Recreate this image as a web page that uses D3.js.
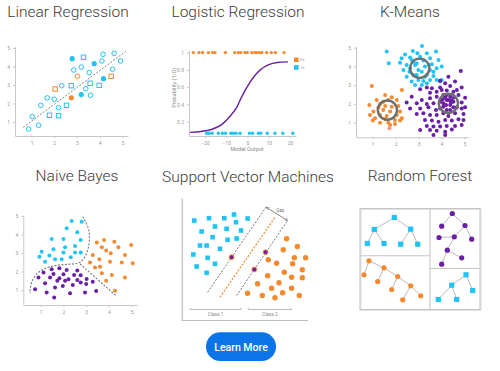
<!DOCTYPE html>
<html>
<head>
<meta charset="utf-8">
<script src="https://cdn.jsdelivr.net/npm/d3@7"></script>
<style>
  body { margin: 0; background: #fff; }
  text { font-family: Roboto, "Open Sans", sans-serif; }
  .tick text { fill: #999; font-size: 5px; }
  .tick line, .domain { stroke: #c8c8c8; }
</style>
</head>
<body>
<div id="chart"></div>
<script>
var svgWidth = 500;
var svgHeight = 371;

var cyan = "#1fc4f4";
var orange = "#f5892e";
var purple = "#6a1fa6";
var gray = "#777";

// panel titles
var titles = ["Linear Regression", "Logistic Regression", "K-Means",
  "Naive Bayes", "Support Vector Machines", "Random Forest"];

// ---- Linear regression data (x, y) ----
var lrOpenCircles = [[0.87, 0.62], [1.31, 0.82], [1.03, 1.29], [1.41, 1.9], [1.69, 2.3], [2.0, 2.23],
  [2.19, 1.77], [2.33, 2.96], [2.86, 3.81], [3.19, 3.97], [3.39, 2.8], [3.54, 3.67], [3.6, 2.44],
  [4.1, 4.3], [4.15, 4.66], [4.57, 3.85], [4.64, 4.71], [4.92, 4.3]];
var lrOpenSquares = [[1.79, 1.36], [2.19, 1.34], [2.54, 1.9], [2.75, 2.96], [3.29, 4.5], [3.58, 3.09], [3.98, 2.98]];
var lrFilledCircles = [[2.79, 4.42], [3.76, 4.15], [3.19, 2.48], [4.17, 3.34]];
var lrOrangeCircles = [[3.02, 3.47]];
var lrOrangeSquares = [[2.04, 2.78], [4.51, 3.47]];
var lrOrangeFilled = [[2.75, 2.31]];
var lrFit = [[0.63, 0.71], [5.15, 4.82]];
var axisTicks = [1, 2, 3, 4, 5];

// ---- Logistic regression data ----
var logOnes = [-25.5, -22.8, -21.1, -18.4, -16.4, -15.3, -10.4, -6.0, -4.3, -3.2, -1.2, -0.1,
  2.0, 3.5, 4.3, 5.6, 6.7, 9.0, 11.2, 13.1, 17.2];
var logZeros = [-19.2, -18.0, -16.6, -13.7, -11.8, -10.3, -7.8, -6.7, -5.4, -3.5, 0.9, 2.4,
  5.1, 6.2, 9.3, 12.9, 16.6, 21.3];
var logOneLevel = 1;
var logZeroLevel = 0.066;
var logCurve = [[-27, 0.077], [-22, 0.087], [-17, 0.11], [-12, 0.17], [-8, 0.27], [-5, 0.37],
  [-2.5, 0.5], [0, 0.61], [3, 0.72], [6, 0.8], [10, 0.86], [14, 0.885], [19, 0.893]];
var logXTicks = [-20, -10, 0, 10, 20];
var logYTicks = [0.2, 0.4, 0.6, 0.8, 1];
var logLegend = ["0's", "1's"];

// ---- K-Means data ----
var kmCyan = [[1.61, 4.79], [1.70, 4.17], [3.15, 5.09], [3.76, 4.79], [2.41, 4.64], [2.75, 4.82],
  [2.95, 4.70], [3.36, 4.70], [2.19, 4.20], [2.63, 4.48], [3.50, 4.43], [3.87, 4.34], [2.48, 4.07],
  [2.77, 4.25], [3.21, 4.31], [3.58, 4.11], [2.34, 3.81], [2.60, 3.72], [3.50, 3.81], [3.79, 3.90],
  [4.01, 3.99], [2.48, 3.45], [2.77, 3.54], [3.36, 3.54], [3.65, 3.49], [2.70, 3.19], [2.99, 3.27],
  [3.21, 3.22], [3.50, 3.27], [3.79, 3.27], [4.01, 3.27], [2.85, 3.01], [3.14, 3.01], [3.36, 3.10],
  [3.94, 3.19], [2.85, 4.07], [2.99, 3.81], [2.92, 3.54], [3.28, 3.99], [3.14, 3.72], [2.92, 4.16],
  [3.46, 4.07], [2.63, 3.90], [3.28, 3.45], [2.70, 4.34], [3.07, 4.52], [3.65, 3.72], [2.26, 4.43]];
var kmOrange = [[0.96, 2.96], [2.27, 2.74], [1.54, 2.48], [1.83, 2.35], [1.17, 2.21], [2.05, 2.21],
  [0.85, 1.94], [1.32, 2.00], [1.54, 1.89], [1.83, 1.85], [2.12, 1.89], [1.03, 1.59], [1.46, 1.67],
  [1.76, 1.59], [2.19, 1.59], [0.88, 1.41], [1.32, 1.41], [1.61, 1.35], [2.05, 1.41], [2.27, 1.23],
  [1.10, 1.23], [1.54, 1.18], [1.97, 1.14], [1.00, 1.11], [1.32, 1.00], [1.68, 1.00], [2.19, 1.11],
  [1.76, 0.88], [1.97, 0.93], [1.25, 1.81], [1.46, 2.12], [1.68, 2.21]];
var kmSalmon = [[1.73, 0.70]];
var kmPurple = [[4.84, 3.76], [4.30, 3.45], [3.94, 3.24], [4.59, 3.19], [4.16, 3.10], [4.38, 2.95],
  [3.94, 2.88], [3.58, 2.83], [3.36, 2.88], [4.88, 2.88], [4.67, 2.74], [4.23, 2.71], [3.79, 2.65],
  [3.50, 2.60], [3.07, 2.78], [2.70, 2.38], [3.14, 2.21], [3.50, 2.30], [3.79, 2.38], [4.08, 2.47],
  [4.38, 2.38], [4.74, 2.47], [5.03, 2.33], [2.48, 2.07], [2.92, 2.03], [3.36, 2.00], [3.65, 2.03],
  [3.94, 2.12], [4.23, 2.21], [4.52, 2.12], [4.88, 2.07], [5.03, 1.82], [2.63, 1.76], [3.07, 1.76],
  [3.43, 1.82], [3.76, 1.67], [4.08, 1.85], [4.38, 1.67], [4.67, 1.82], [4.88, 1.76], [2.92, 1.46],
  [3.21, 1.50], [3.50, 1.41], [3.79, 1.41], [4.08, 1.50], [4.30, 1.35], [4.59, 1.50], [4.96, 1.46],
  [3.28, 1.14], [3.58, 1.11], [3.87, 1.05], [4.16, 1.14], [4.45, 1.11], [4.74, 1.18], [4.96, 1.14],
  [3.36, 0.82], [3.65, 0.79], [3.94, 0.79], [4.23, 0.82], [4.59, 0.82], [4.88, 0.87], [3.07, 0.61],
  [3.50, 0.61], [3.79, 0.57], [4.16, 0.52], [4.45, 0.64], [3.65, 0.34], [4.16, 0.34], [4.23, 2.47],
  [4.01, 2.74], [4.52, 2.65], [4.20, 1.94], [4.38, 1.94], [4.08, 2.03], [4.45, 2.21], [3.94, 1.76],
  [4.23, 1.67], [4.52, 1.82], [4.30, 2.21], [4.16, 2.35], [4.41, 2.07], [4.05, 2.24], [4.55, 2.35]];
var kmCentroids = [[3.05, 3.9], [1.64, 1.67], [4.3, 2.03]];

// ---- Naive Bayes data ----
var nbCyan = [[2.36, 4.73], [2.80, 4.68], [2.14, 4.33], [2.61, 4.12], [1.48, 3.76], [2.00, 3.76],
  [2.76, 3.70], [1.04, 3.07], [0.94, 2.80], [1.56, 3.20], [2.07, 3.31], [2.51, 3.38], [1.38, 2.86],
  [2.00, 3.02], [2.51, 3.02], [2.76, 3.02], [1.19, 2.53], [1.63, 2.66], [1.92, 2.66], [2.32, 2.77]];
var nbOrange = [[3.47, 3.56], [3.79, 3.70], [4.24, 3.61], [3.69, 3.31], [4.42, 3.31], [3.88, 3.13],
  [3.29, 2.89], [4.08, 2.98], [4.98, 3.43], [4.71, 2.89], [3.17, 2.48], [3.58, 2.66], [4.57, 2.48],
  [3.39, 2.21], [3.61, 2.26], [4.05, 2.53], [3.69, 1.90], [4.13, 1.81], [3.88, 1.50], [4.71, 1.68],
  [5.05, 2.44], [4.27, 0.96]];
var nbPurple = [[1.48, 2.12], [1.82, 2.17], [2.14, 2.08], [2.61, 2.05], [1.12, 1.94], [1.56, 1.86],
  [2.00, 1.85], [2.47, 1.81], [2.76, 1.79], [0.90, 1.68], [1.41, 1.68], [1.82, 1.63], [2.22, 1.58],
  [2.61, 1.54], [3.02, 1.59], [1.19, 1.36], [1.73, 1.50], [2.07, 1.50], [2.41, 1.27], [2.76, 1.40],
  [3.00, 1.32], [3.29, 1.45], [1.63, 1.14], [1.97, 1.22], [0.75, 1.04], [1.26, 0.86], [1.59, 0.59],
  [2.29, 0.82], [2.95, 0.86], [3.44, 0.95]];
var nbBoundary = [[2.85, 4.96], [3.10, 4.42], [3.17, 3.88], [3.10, 3.16], [2.88, 2.62], [2.66, 2.41],
  [2.14, 2.39], [1.56, 2.33], [1.04, 2.12], [0.68, 1.72], [0.53, 1.18], [0.53, 0.82]];
var nbSplit = [[2.73, 2.41], [4.32, 0.68]];

// ---- SVM data (unitless plane) ----
var svmSquares = [[12, 100], [26.7, 102.3], [42, 102.3], [51.7, 106], [53.7, 98.3], [65.3, 102],
  [19.3, 89], [32.7, 94], [44.3, 91.7], [58.7, 90], [30.3, 83.3], [45.3, 80.7], [54.3, 82],
  [17.7, 75], [24.3, 75], [37.7, 71.7], [11, 66], [25.3, 62.7], [14.3, 54], [32.7, 56.7], [24.3, 47.7]];
var svmCircles = [[104.3, 81.7], [101, 70.7], [115, 74], [112, 62.7], [123.3, 62.7], [86, 60.7],
  [94.3, 57.3], [110.3, 56.7], [102, 48.3], [120, 50.7], [85.3, 44.7], [109.3, 43.3], [120, 42.7],
  [75.3, 36.7], [89.3, 32.3], [96.7, 37.7], [109.3, 32.3], [65.3, 27.3], [80, 25], [92.7, 22.7],
  [100.3, 27.7], [117, 25]];
var svmSupport = [[49.3, 63.3], [83.3, 68.3], [72, 51]];
var svmMargins = [[[25.3, 28.3], [83.7, 113.3]], [[54.3, 25], [105.3, 100]]];
var svmHyperplane = [[37.7, 23.3], [92.7, 103.3]];
var svmClasses = [{ label: "Class 1", from: 8, to: 58.7 }, { label: "Class 2", from: 66, to: 109.3 }];

// ---- Random forest trees (node x, y, parent index) ----
var rfTree1 = [[34.3, 9, -1], [14.3, 21, 0], [50.7, 20.7, 0], [7.3, 35, 1], [24, 35, 1], [40.7, 35.7, 2], [57.7, 35.7, 2]];
var rfTree2 = [[92.3, 5, -1], [81.7, 17.7, 0], [105, 17, 0], [94.3, 28.3, 2], [111.7, 30.7, 2],
  [79, 29, 3], [87.3, 41.7, 3], [101.7, 49.3, 6], [81.7, 55.7, 6]];
var rfTree3 = [[9, 52.3, -1], [4, 66.3, 0], [24, 59.3, 0], [17.7, 73, 2], [37.7, 68, 2],
  [31.7, 81, 4], [50.7, 77.3, 4], [42.7, 91.3, 6], [60.7, 87.3, 6]];
var rfTree4 = [[106, 66.3, -1], [91.7, 76.7, 0], [112.7, 82, 0], [78.3, 91, 1], [96.7, 91, 1]];

var svg = d3.select("#chart").append("svg")
  .attr("width", svgWidth)
  .attr("height", svgHeight);

svg.append("rect").attr("width", svgWidth).attr("height", svgHeight).attr("fill", "#fff");

// titles
var titlePos = [[68, 16.5], [238, 16.5], [410, 16.5], [77, 181], [248, 181.5], [420, 181]];
svg.selectAll(".title").data(titles).enter().append("text")
  .attr("class", "title")
  .attr("x", (d, i) => titlePos[i][0])
  .attr("y", (d, i) => titlePos[i][1])
  .attr("text-anchor", "middle")
  .attr("font-size", "15.5px")
  .attr("font-weight", 300)
  .attr("fill", "#3b3b3b")
  .text(d => d);

var intFmt = d3.format("d");
var probFmt = d => d === 1 ? "1" : d3.format(".1f")(d);

// shared axis drawing
function drawAxes(g, x, y, xTicks, yTicks, xFmt, yFmt) {
  var yr = y.range();
  var xr = x.range();
  g.append("g")
    .attr("transform", `translate(0, ${yr[0]})`)
    .call(d3.axisBottom(x).tickValues(xTicks).tickSize(2).tickSizeOuter(0).tickPadding(3).tickFormat(xFmt));
  g.append("g")
    .attr("transform", `translate(${xr[0]}, 0)`)
    .call(d3.axisLeft(y).tickValues(yTicks).tickSize(2).tickSizeOuter(0).tickPadding(3).tickFormat(yFmt));
  g.selectAll(".domain").attr("stroke", "#c4c4c4").attr("stroke-width", 1);
}

function dots(g, data, x, y, r, fill, stroke) {
  g.append("g").selectAll("circle").data(data).enter().append("circle")
    .attr("cx", d => x(d[0]))
    .attr("cy", d => y(d[1]))
    .attr("r", r)
    .attr("fill", fill)
    .attr("stroke", stroke || "none")
    .attr("stroke-width", 1);
}

function squares(g, data, x, y, s, fill, stroke) {
  g.append("g").selectAll("rect").data(data).enter().append("rect")
    .attr("x", d => x(d[0]) - s / 2)
    .attr("y", d => y(d[1]) - s / 2)
    .attr("width", s)
    .attr("height", s)
    .attr("fill", fill)
    .attr("stroke", stroke || "none")
    .attr("stroke-width", 1);
}

// ---------------- Linear Regression ----------------
var lr = svg.append("g");
var lrX = d3.scaleLinear().domain([0.27, 5.25]).range([15, 128]);
var lrY = d3.scaleLinear().domain([0.24, 5.07]).range([136, 46.7]);
drawAxes(lr, lrX, lrY, axisTicks, axisTicks, intFmt, intFmt);
lr.append("path")
  .datum(lrFit)
  .attr("d", d3.line().x(d => lrX(d[0])).y(d => lrY(d[1])))
  .attr("stroke", "#888").attr("stroke-width", 1).attr("stroke-dasharray", "2,1.5").attr("fill", "none");
dots(lr, lrOpenCircles, lrX, lrY, 2.3, "#fff", cyan);
squares(lr, lrOpenSquares, lrX, lrY, 4.4, "#fff", cyan);
dots(lr, lrFilledCircles, lrX, lrY, 2.6, cyan);
dots(lr, lrOrangeCircles, lrX, lrY, 2.3, "#fff", orange);
squares(lr, lrOrangeSquares, lrX, lrY, 4.4, "#fff", orange);
dots(lr, lrOrangeFilled, lrX, lrY, 2.6, orange);

// ---------------- Logistic Regression ----------------
var lg = svg.append("g");
var lgX = d3.scaleLinear().domain([-27.5, 22.8]).range([189, 296]);
var lgY = d3.scaleLinear().domain([0.035, 1.03]).range([136, 50]);
drawAxes(lg, lgX, lgY, logXTicks, logYTicks, intFmt, probFmt);
lg.append("path")
  .datum(logCurve)
  .attr("d", d3.line().curve(d3.curveMonotoneX).x(d => lgX(d[0])).y(d => lgY(d[1])))
  .attr("stroke", purple).attr("stroke-width", 1.4).attr("fill", "none");
dots(lg, logOnes.map(v => [v, logOneLevel]), lgX, lgY, 1.7, orange);
dots(lg, logZeros.map(v => [v, logZeroLevel]), lgX, lgY, 1.7, cyan);
lg.append("text").attr("x", 247).attr("y", 150.5).attr("text-anchor", "middle")
  .attr("font-size", "5.5px").attr("fill", "#888").text("Model Output");
lg.append("text").attr("transform", "translate(176, 88) rotate(-90)").attr("text-anchor", "middle")
  .attr("font-size", "5.5px").attr("fill", "#888").text("Probability (1/0)");
var legend = lg.selectAll(".lgd").data(logLegend).enter().append("g")
  .attr("transform", (d, i) => `translate(294, ${57.5 + i * 7.7})`);
legend.append("rect").attr("width", 4.6).attr("height", 4.6).attr("fill", (d, i) => i === 0 ? orange : cyan);
legend.append("text").attr("x", 6).attr("y", 3.8).attr("font-size", "3.5px").attr("fill", "#999").text(d => d);

// ---------------- K-Means ----------------
var km = svg.append("g");
var kmX = d3.scaleLinear().domain([0.27, 5.2]).range([356, 469]);
var kmY = d3.scaleLinear().domain([0.22, 5.05]).range([137.3, 46.7]);
drawAxes(km, kmX, kmY, axisTicks, axisTicks, intFmt, intFmt);
dots(km, kmCyan, kmX, kmY, 2, cyan);
dots(km, kmOrange, kmX, kmY, 2, orange);
dots(km, kmSalmon, kmX, kmY, 2, "#f7947a");
dots(km, kmPurple, kmX, kmY, 2, purple);
km.append("g").selectAll("circle").data(kmCentroids).enter().append("circle")
  .attr("cx", d => kmX(d[0]))
  .attr("cy", d => kmY(d[1]))
  .attr("r", 9.6)
  .attr("fill", "none")
  .attr("stroke", "#6f6f6f")
  .attr("stroke-width", 2.4);

// ---------------- Naive Bayes ----------------
var nb = svg.append("g");
var nbX = d3.scaleLinear().domain([0.23, 5.24]).range([23.3, 137]);
var nbY = d3.scaleLinear().domain([0.19, 5.05]).range([305, 215]);
drawAxes(nb, nbX, nbY, axisTicks, axisTicks, intFmt, intFmt);
nb.append("path")
  .datum(nbBoundary)
  .attr("d", d3.line().curve(d3.curveBasis).x(d => nbX(d[0])).y(d => nbY(d[1])))
  .attr("stroke", gray).attr("stroke-width", 1.1).attr("stroke-dasharray", "2,1.5").attr("fill", "none");
nb.append("path")
  .datum(nbSplit)
  .attr("d", d3.line().x(d => nbX(d[0])).y(d => nbY(d[1])))
  .attr("stroke", gray).attr("stroke-width", 1.1).attr("stroke-dasharray", "2,1.5").attr("fill", "none");
dots(nb, nbCyan, nbX, nbY, 2, cyan);
dots(nb, nbOrange, nbX, nbY, 2, orange);
dots(nb, nbPurple, nbX, nbY, 2, purple);

// ---------------- SVM ----------------
var sv = svg.append("g");
var svX = d3.scaleLinear().domain([0, 131]).range([182.3, 313.3]);
var svY = d3.scaleLinear().domain([0, 122]).range([320.5, 198.5]);
sv.append("path")
  .attr("d", `M${svX(0)},${svY(122)}V${svY(0)}H${svX(126)}`)
  .attr("stroke", "#bdbdbd").attr("stroke-width", 1.2).attr("fill", "none");
var lineGen = d3.line().x(d => svX(d[0])).y(d => svY(d[1]));
sv.selectAll(".margin").data(svmMargins).enter().append("path")
  .attr("d", lineGen)
  .attr("stroke", gray).attr("stroke-width", 1).attr("stroke-dasharray", "2,1.5");
sv.append("path").datum(svmHyperplane)
  .attr("d", lineGen)
  .attr("stroke", orange).attr("stroke-width", 1.2).attr("stroke-dasharray", "2,1.5");
// gap arrow
var defs = svg.append("defs");
defs.append("marker").attr("id", "arr").attr("viewBox", "0 0 10 10").attr("refX", 10).attr("refY", 5)
  .attr("markerWidth", 4).attr("markerHeight", 4).attr("orient", "auto-start-reverse")
  .append("path").attr("d", "M0,0L10,5L0,10").attr("fill", "none").attr("stroke", "#666").attr("stroke-width", 1.5);
var gapEnds = [svmMargins[0][1], svmMargins[1][1]];
sv.append("path").datum(gapEnds)
  .attr("d", lineGen)
  .attr("stroke", "#666").attr("stroke-width", 0.8)
  .attr("marker-start", "url(#arr)").attr("marker-end", "url(#arr)");
sv.append("text").attr("x", svX(98)).attr("y", svY(109)).attr("text-anchor", "middle")
  .attr("font-size", "4.5px").attr("fill", "#777").text("Gap");
squares(sv, svmSquares, svX, svY, 4.6, cyan);
dots(sv, svmCircles, svX, svY, 2.7, orange);
dots(sv, svmSupport, svX, svY, 2.4, purple, orange);
var cls = sv.selectAll(".cls").data(svmClasses).enter().append("g");
cls.append("path")
  .attr("d", d => `M${svX(d.from)},${svY(12.5)}V${svY(11)}H${svX(d.to)}V${svY(12.5)}`)
  .attr("stroke", "#aaa").attr("stroke-width", 0.8).attr("fill", "none");
cls.append("text")
  .attr("x", d => svX((d.from + d.to) / 2))
  .attr("y", svY(4.3))
  .attr("text-anchor", "middle")
  .attr("font-size", "4.8px").attr("fill", "#888")
  .text(d => d.label);

// ---------------- Random Forest ----------------
var rf = svg.append("g");
var rfX = d3.scaleLinear().domain([0, 120]).range([360, 480]);
var rfY = d3.scaleLinear().domain([0, 101]).range([208.5, 309.5]);
rf.append("rect")
  .attr("x", rfX(0) + 0.8).attr("y", rfY(0) + 0.8)
  .attr("width", rfX(120) - rfX(0)).attr("height", rfY(101) - rfY(0))
  .attr("fill", "none").attr("stroke", "#e2e2e2").attr("stroke-width", 1.4);
rf.append("rect")
  .attr("x", rfX(0)).attr("y", rfY(0))
  .attr("width", rfX(120) - rfX(0)).attr("height", rfY(101) - rfY(0))
  .attr("fill", "none").attr("stroke", "#c6c6c6").attr("stroke-width", 1.1);
rf.append("path")
  .attr("d", `M${rfX(70)},${rfY(0)}V${rfY(101)}M${rfX(0)},${rfY(47.3)}H${rfX(70)}M${rfX(70)},${rfY(60)}H${rfX(120)}`)
  .attr("stroke", "#c6c6c6").attr("stroke-width", 1.1);

function tree(nodes, color, shape) {
  var g = rf.append("g");
  g.selectAll("line").data(nodes.filter(d => d[2] >= 0)).enter().append("line")
    .attr("x1", d => rfX(d[0])).attr("y1", d => rfY(d[1]))
    .attr("x2", d => rfX(nodes[d[2]][0])).attr("y2", d => rfY(nodes[d[2]][1]))
    .attr("stroke", "#aaa").attr("stroke-width", 0.8);
  if (shape === "square") squares(g, nodes, rfX, rfY, 5.2, color);
  else dots(g, nodes, rfX, rfY, 2.6, color);
}
tree(rfTree1, cyan, "square");
tree(rfTree2, purple, "circle");
tree(rfTree3, orange, "circle");
tree(rfTree4, cyan, "square");

// ---------------- Button ----------------
var btn = svg.append("g");
btn.append("rect")
  .attr("x", 206).attr("y", 332.3).attr("width", 70).attr("height", 28.7).attr("rx", 14.3)
  .attr("fill", "#0b74e8");
btn.append("text")
  .attr("x", 241).attr("y", 350.6).attr("text-anchor", "middle")
  .attr("font-size", "10.5px").attr("font-weight", 500).attr("fill", "#fff")
  .text("Learn More");
</script>
</body>
</html>
